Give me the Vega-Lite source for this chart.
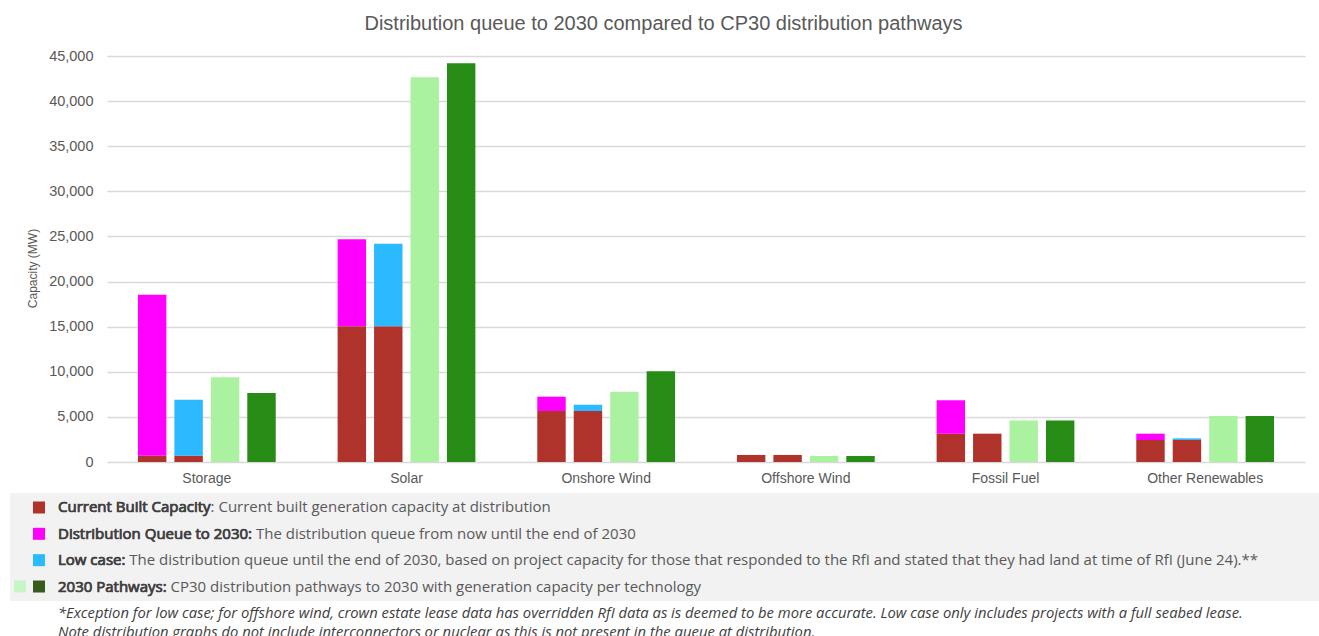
{
  "$schema": "https://vega.github.io/schema/vega-lite/v6.json",
  "background": "white",
  "padding": {"left": 10, "top": 14, "right": 0, "bottom": 0},
  "spacing": 8,
  "config": {
    "view": {"stroke": null},
    "font": "Liberation Sans"
  },
  "resolve": {"scale": {"color": "independent", "x": "independent", "y": "independent"}},
  "vconcat": [
    {
      "width": 1295,
      "height": 406,
      "title": {
        "text": "Distribution queue to 2030 compared to CP30 distribution pathways",
        "font": "Liberation Sans",
        "fontSize": 20,
        "fontWeight": "normal",
        "color": "#595959",
        "anchor": "middle",
        "frame": "group",
        "dx": 6,
        "offset": 14
      },
      "data": {
        "values": [
          {"technology": "Storage", "bar": "Queue", "series": "Current Built Capacity", "capacity": 700},
          {"technology": "Storage", "bar": "Queue", "series": "Distribution Queue to 2030", "capacity": 17850},
          {"technology": "Storage", "bar": "Low", "series": "Current Built Capacity", "capacity": 700},
          {"technology": "Storage", "bar": "Low", "series": "Low case", "capacity": 6200},
          {"technology": "Storage", "bar": "Pathway 1", "series": "2030 Pathway 1", "capacity": 9400},
          {"technology": "Storage", "bar": "Pathway 2", "series": "2030 Pathway 2", "capacity": 7650},

          {"technology": "Solar", "bar": "Queue", "series": "Current Built Capacity", "capacity": 15050},
          {"technology": "Solar", "bar": "Queue", "series": "Distribution Queue to 2030", "capacity": 9650},
          {"technology": "Solar", "bar": "Low", "series": "Current Built Capacity", "capacity": 15050},
          {"technology": "Solar", "bar": "Low", "series": "Low case", "capacity": 9150},
          {"technology": "Solar", "bar": "Pathway 1", "series": "2030 Pathway 1", "capacity": 42650},
          {"technology": "Solar", "bar": "Pathway 2", "series": "2030 Pathway 2", "capacity": 44200},

          {"technology": "Onshore Wind", "bar": "Queue", "series": "Current Built Capacity", "capacity": 5650},
          {"technology": "Onshore Wind", "bar": "Queue", "series": "Distribution Queue to 2030", "capacity": 1590},
          {"technology": "Onshore Wind", "bar": "Low", "series": "Current Built Capacity", "capacity": 5650},
          {"technology": "Onshore Wind", "bar": "Low", "series": "Low case", "capacity": 700},
          {"technology": "Onshore Wind", "bar": "Pathway 1", "series": "2030 Pathway 1", "capacity": 7800},
          {"technology": "Onshore Wind", "bar": "Pathway 2", "series": "2030 Pathway 2", "capacity": 10050},

          {"technology": "Offshore Wind", "bar": "Queue", "series": "Current Built Capacity", "capacity": 780},
          {"technology": "Offshore Wind", "bar": "Queue", "series": "Distribution Queue to 2030", "capacity": 0},
          {"technology": "Offshore Wind", "bar": "Low", "series": "Current Built Capacity", "capacity": 780},
          {"technology": "Offshore Wind", "bar": "Low", "series": "Low case", "capacity": 0},
          {"technology": "Offshore Wind", "bar": "Pathway 1", "series": "2030 Pathway 1", "capacity": 670},
          {"technology": "Offshore Wind", "bar": "Pathway 2", "series": "2030 Pathway 2", "capacity": 670},

          {"technology": "Fossil Fuel", "bar": "Queue", "series": "Current Built Capacity", "capacity": 3140},
          {"technology": "Fossil Fuel", "bar": "Queue", "series": "Distribution Queue to 2030", "capacity": 3700},
          {"technology": "Fossil Fuel", "bar": "Low", "series": "Current Built Capacity", "capacity": 3140},
          {"technology": "Fossil Fuel", "bar": "Low", "series": "Low case", "capacity": 0},
          {"technology": "Fossil Fuel", "bar": "Pathway 1", "series": "2030 Pathway 1", "capacity": 4600},
          {"technology": "Fossil Fuel", "bar": "Pathway 2", "series": "2030 Pathway 2", "capacity": 4600},

          {"technology": "Other Renewables", "bar": "Queue", "series": "Current Built Capacity", "capacity": 2440},
          {"technology": "Other Renewables", "bar": "Queue", "series": "Distribution Queue to 2030", "capacity": 700},
          {"technology": "Other Renewables", "bar": "Low", "series": "Current Built Capacity", "capacity": 2440},
          {"technology": "Other Renewables", "bar": "Low", "series": "Low case", "capacity": 180},
          {"technology": "Other Renewables", "bar": "Pathway 1", "series": "2030 Pathway 1", "capacity": 5100},
          {"technology": "Other Renewables", "bar": "Pathway 2", "series": "2030 Pathway 2", "capacity": 5100}
        ]
      },
      "mark": {"type": "bar"},
      "encoding": {
        "x": {
          "field": "technology",
          "type": "nominal",
          "sort": ["Storage", "Solar", "Onshore Wind", "Offshore Wind", "Fossil Fuel", "Other Renewables"],
          "scale": {"range": [97, 1295], "paddingInner": 0.31, "paddingOuter": 0.155},
          "title": null,
          "axis": {
            "labelAngle": 0,
            "labelFont": "Liberation Sans",
            "labelFontSize": 14,
            "labelColor": "#595959",
            "labelPadding": 9,
            "ticks": false,
            "domain": false,
            "grid": false
          }
        },
        "xOffset": {
          "field": "bar",
          "type": "nominal",
          "sort": ["Queue", "Low", "Pathway 1", "Pathway 2"],
          "scale": {"paddingInner": 0.22, "paddingOuter": 0}
        },
        "y": {
          "field": "capacity",
          "type": "quantitative",
          "stack": "zero",
          "scale": {"domain": [0, 45000], "nice": false},
          "title": "Capacity (MW)",
          "axis": {
            "offset": -97,
            "values": [0, 5000, 10000, 15000, 20000, 25000, 30000, 35000, 40000, 45000],
            "format": ",.0f",
            "labelFont": "Liberation Sans",
            "labelFontSize": 14.5,
            "labelColor": "#595959",
            "labelPadding": 14,
            "ticks": false,
            "domain": false,
            "grid": true,
            "gridColor": "#d9d9d9",
            "gridWidth": 1.5,
            "titleFont": "Liberation Sans",
            "titleFontSize": 12,
            "titleFontWeight": "normal",
            "titleColor": "#595959",
            "titlePadding": 9,
            "titleY": 212
          }
        },
        "color": {
          "field": "series",
          "type": "nominal",
          "scale": {
            "domain": ["Current Built Capacity", "Distribution Queue to 2030", "Low case", "2030 Pathway 1", "2030 Pathway 2"],
            "range": ["#b0332b", "#ff00ff", "#2bb9ff", "#abf2a0", "#268c16"]
          },
          "legend": null
        },
        "order": {"field": "series", "sort": "ascending"}
      }
    },
    {
      "width": 1309,
      "height": 108,
      "view": {"fill": "#f2f2f2", "stroke": null},
      "title": {
        "text": [
          "*Exception for low case; for offshore wind, crown estate lease data has overridden RfI data as is deemed to be more accurate.  Low case only includes projects with a full seabed lease.",
          "Note distribution graphs do not include interconnectors or nuclear as this is not present in the queue at distribution."
        ],
        "orient": "bottom",
        "anchor": "start",
        "frame": "group",
        "dx": 48,
        "offset": 5,
        "font": "Open Sans",
        "fontSize": 14.8,
        "fontStyle": "italic",
        "fontWeight": "normal",
        "color": "#404040",
        "lineHeight": 19
      },
      "layer": [
        {
          "data": {
            "values": [
              {"item": "Current Built Capacity", "slot": "main", "series": "Current Built Capacity"},
              {"item": "Distribution Queue to 2030", "slot": "main", "series": "Distribution Queue to 2030"},
              {"item": "Low case", "slot": "main", "series": "Low case"},
              {"item": "2030 Pathways", "slot": "extra", "series": "2030 Pathway 1"},
              {"item": "2030 Pathways", "slot": "main", "series": "2030 Pathway 2"}
            ]
          },
          "mark": {"type": "square", "size": 144, "opacity": 1, "filled": true},
          "encoding": {
            "x": {
              "field": "slot",
              "type": "nominal",
              "scale": {"type": "point", "domain": ["extra", "main", "text"], "range": [10, 48], "padding": 0},
              "axis": null
            },
            "y": {
              "field": "item",
              "type": "nominal",
              "scale": {"type": "point", "domain": ["Current Built Capacity", "Distribution Queue to 2030", "Low case", "2030 Pathways"], "padding": 0.55},
              "axis": null
            },
            "color": {
              "field": "series",
              "type": "nominal",
              "scale": {
                "domain": ["Current Built Capacity", "Distribution Queue to 2030", "Low case", "2030 Pathway 1", "2030 Pathway 2"],
                "range": ["#b0332b", "#ff00ff", "#2bb9ff", "#c6f5c6", "#385a1a"]
              },
              "legend": null
            }
          }
        },
        {
          "data": {
            "values": [
              {"item": "Current Built Capacity", "term": "Current Built Capacity", "line": "Current Built Capacity: Current built generation capacity at distribution"},
              {"item": "Distribution Queue to 2030", "term": "Distribution Queue to 2030:", "line": "Distribution Queue to 2030: The distribution queue from now until the end of 2030"},
              {"item": "Low case", "term": "Low case:", "line": "Low case: The distribution queue until the end of 2030, based on project capacity for those that responded to the RfI and stated that they had land at time of RfI (June 24).**"},
              {"item": "2030 Pathways", "term": "2030 Pathways:", "line": "2030 Pathways: CP30 distribution pathways to 2030 with generation capacity per technology"}
            ]
          },
          "layer": [
            {
              "mark": {"type": "text", "align": "left", "baseline": "middle", "font": "Open Sans", "fontSize": 15, "fill": "#595959"},
              "encoding": {
                "x": {"datum": "text"},
                "y": {"field": "item", "type": "nominal"},
                "text": {"field": "line"}
              }
            },
            {
              "mark": {"type": "text", "align": "left", "baseline": "middle", "font": "Open Sans", "fontSize": 15, "fill": "#404040", "stroke": "#404040", "strokeWidth": 0.7},
              "encoding": {
                "x": {"datum": "text"},
                "y": {"field": "item", "type": "nominal"},
                "text": {"field": "term"}
              }
            }
          ]
        }
      ]
    }
  ]
}
